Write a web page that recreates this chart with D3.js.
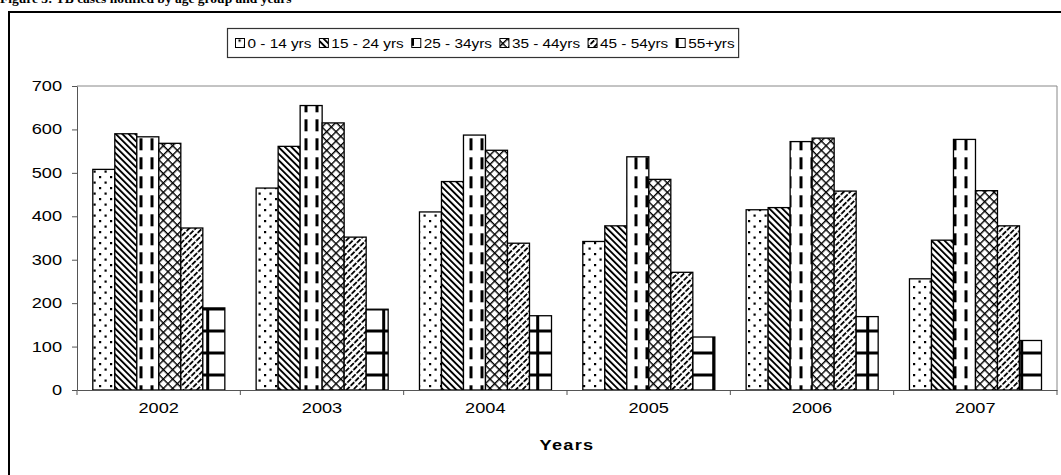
<!DOCTYPE html>
<html><head><meta charset="utf-8">
<script src="https://cdn.jsdelivr.net/npm/d3@7"></script>
<style>body{margin:0;background:#fff;} svg{display:block;}</style>
</head><body><svg id="c" width="1061" height="475"></svg>
<script>
const years = ["2002","2003","2004","2005","2006","2007"];
const groups = ["0 - 14 yrs","15 - 24 yrs","25 - 34yrs","35 - 44yrs","45 - 54yrs","55+yrs"];
const age0_14  = [508,465,410,342,415,256];
const age15_24 = [590,561,480,378,420,345];
const age25_34 = [583,655,587,537,572,577];
const age35_44 = [568,615,552,485,580,459];
const age45_54 = [373,352,338,271,458,378];
const age55p   = [189,186,171,122,169,114];
const yTicks = [0,100,200,300,400,500,600,700];
const titleText = "Figure 3: TB cases notified by age group and years";
const xTitle = "Years";

const series = [age0_14, age15_24, age25_34, age35_44, age45_54, age55p];
const SX = 1.3;
const FONT = "'Liberation Sans', Arial, sans-serif";

const svg = d3.select("#c");
const defs = svg.append("defs");

function pat(id, w, h, opts) {
  const p = defs.append("pattern").attr("id", id).attr("patternUnits","userSpaceOnUse")
    .attr("width", w).attr("height", h);
  if (opts && opts.x != null) p.attr("x", opts.x);
  if (opts && opts.y != null) p.attr("y", opts.y);
  if (opts && opts.rot != null) p.attr("patternTransform", `rotate(${opts.rot})`);
  p.append("rect").attr("width", w).attr("height", h).attr("fill", "#fff");
  return p;
}
// 0-14 dots
let p = pat("p0", 11, 11);
p.append("rect").attr("x",0).attr("y",0).attr("width",2.2).attr("height",2.2).attr("fill","#000");
p.append("rect").attr("x",5.5).attr("y",5.5).attr("width",2.2).attr("height",2.2).attr("fill","#000");
// 15-24 downward diagonal
p = pat("p1", 4.6, 4.6, {rot:-45});
p.append("rect").attr("x",0).attr("y",0).attr("width",1.9).attr("height",4.6).attr("fill","#000");
// 25-34 dashed vertical
p = pat("p2", 11, 19, {x:7.5, y:5.3});
p.append("rect").attr("x",0).attr("y",0).attr("width",3).attr("height",12).attr("fill","#000");
// 35-44 cross
p = pat("p3", 6.6, 6.6, {rot:45});
p.append("rect").attr("x",0).attr("y",0).attr("width",1.4).attr("height",6.6).attr("fill","#000");
p.append("rect").attr("x",0).attr("y",0).attr("width",6.6).attr("height",1.4).attr("fill","#000");
// 45-54 upward diagonal dashed
p = pat("p4", 4.6, 6.6, {rot:45});
p.append("rect").attr("x",0).attr("y",0).attr("width",1.8).attr("height",5.2).attr("fill","#000");
// 55+ grid
p = pat("p5", 22, 22, {x:8.2, y:-0.5});
p.append("rect").attr("x",0).attr("y",0).attr("width",3).attr("height",22).attr("fill","#000");
p.append("rect").attr("x",0).attr("y",0).attr("width",22).attr("height",3).attr("fill","#000");

const fills = ["url(#p0)","url(#p1)","url(#p2)","url(#p3)","url(#p4)","url(#p5)"];

// frame
svg.append("rect").attr("x",9).attr("y",12).attr("width",1200).attr("height",600)
  .attr("fill","none").attr("stroke","#000").attr("stroke-width",2);

// title (clipped at top, as in the reference)
svg.append("text").attr("x",0).attr("y",2.5)
  .attr("font-family","'Liberation Serif', 'Times New Roman', serif").attr("font-weight","bold")
  .attr("font-size",13.5).attr("fill","#000").text(titleText);

const L = 77, R = 1057, T = 86, B = 390;
const x0 = d3.scaleBand().domain(years).range([L, R]);
const bw = x0.bandwidth();
const x1 = d3.scaleBand().domain(groups).range([15.8, bw - 15.5]);
const y = d3.scaleLinear().domain([0, 700]).range([B, T]);

// plot border
svg.append("path").attr("d", `M${L},${T}H${R}V${B}`).attr("fill","none").attr("stroke","#888").attr("stroke-width",1);

// bars (absolute coordinates so patterns align in page space)
const cells = [];
years.forEach((yr, i) => series.forEach((s, k) => cells.push({yr, g: groups[k], v: s[i], k})));
svg.append("g").selectAll("rect").data(cells).join("rect")
  .attr("x", d => x0(d.yr) + x1(d.g)).attr("width", x1.bandwidth())
  .attr("y", d => y(d.v)).attr("height", d => B - y(d.v))
  .attr("fill", d => fills[d.k]).attr("stroke", "#000").attr("stroke-width", 1.3);

// y axis
const ya = svg.append("g").attr("transform", `translate(${L},0)`)
  .call(d3.axisLeft(y).tickValues(yTicks).tickSize(5).tickSizeOuter(0));
ya.select(".domain").attr("stroke","#555");
ya.selectAll(".tick line").attr("stroke","#555");
ya.selectAll(".tick text").attr("x",0).attr("transform","translate(-15,0) scale(" + SX + ",1)")
  .attr("font-family",FONT).attr("font-size",14).attr("fill","#000");

// x axis
const xa = svg.append("g").attr("transform", `translate(0,${B})`)
  .call(d3.axisBottom(x0).tickSize(0).tickPadding(13).tickSizeOuter(0));
xa.select(".domain").attr("stroke","#555");
xa.selectAll(".tick text").attr("transform","scale(" + SX + ",1)")
  .attr("font-family",FONT).attr("font-size",14).attr("fill","#000");
xa.selectAll(".bt").data(years.concat(["end"])).join("line").attr("class","bt")
  .attr("x1", (d, i) => i < years.length ? x0(d) : R)
  .attr("x2", (d, i) => i < years.length ? x0(d) : R)
  .attr("y1", 0).attr("y2", 5).attr("stroke","#555");

// x title
svg.append("text").attr("transform", `translate(${(L + R) / 2},450) scale(${SX},1)`)
  .attr("text-anchor","middle").attr("font-family",FONT).attr("font-weight","bold")
  .attr("font-size",14).attr("letter-spacing",1).attr("fill","#000").text(xTitle);

// legend
const LSX = 1.18;
const lg = svg.append("g").attr("transform","translate(227.5,28.5)");
const lbox = lg.append("rect").attr("width",510).attr("height",29).attr("fill","#fff")
  .attr("stroke","#333").attr("stroke-width",1.2);
let cx = 8;
groups.forEach((g, k) => {
  lg.append("rect").attr("x", cx).attr("y", 10).attr("width", 9).attr("height", 9)
    .attr("fill", fills[k]).attr("stroke","#000").attr("stroke-width",1);
  const t = lg.append("text").attr("transform", `translate(${cx + 12},19.5) scale(${LSX},1)`)
    .attr("font-family",FONT).attr("font-size",13).attr("fill","#000").text(g);
  const w = t.node().getComputedTextLength() * LSX;
  cx += 12 + w + 8;
});
lbox.attr("width", cx - 4);
</script></body></html>
